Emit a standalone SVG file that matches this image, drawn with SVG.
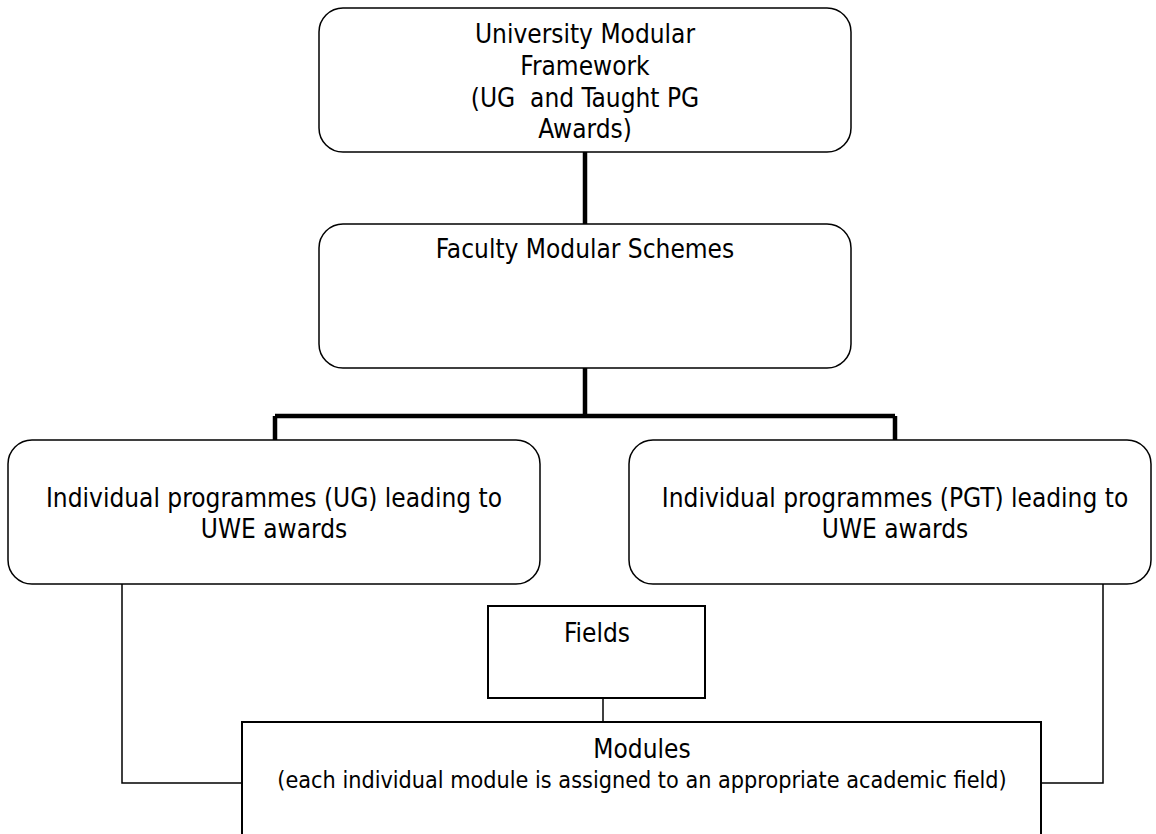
<svg xmlns="http://www.w3.org/2000/svg" width="1156" height="834" viewBox="0 0 1156 834">
<style>
  text { font-family: "DejaVu Sans Condensed", "DejaVu Sans", sans-serif; font-size: 26px; fill: #000; text-anchor: middle; white-space: pre; }
  text.small { font-size: 23.2px; }
  .rbox { fill: #fff; stroke: #000; stroke-width: 1.5; }
  .sbox { fill: #fff; stroke: #000; stroke-width: 2; }
  .thick { fill: none; stroke: #000; stroke-width: 4.5; }
  .thin { fill: none; stroke: #000; stroke-width: 1.5; }
</style>
<rect width="1156" height="834" fill="#fff"/>
<g id="connectors">
  <path class="thick" d="M585 152 V224"/>
  <path class="thick" d="M585 368 V416 M275 416 H895 M275 416 V440 M895 416 V440"/>
  <path class="thin" d="M122 584 V783 H242"/>
  <path class="thin" d="M1103 584 V783 H1041"/>
  <path class="thin" d="M603 698 V722"/>
</g>
<g id="university">
  <rect class="rbox" x="319" y="8" width="532" height="144" rx="24"/>
  <text x="585" y="43">University Modular</text>
  <text x="585" y="75">Framework</text>
  <text x="585" y="107" xml:space="preserve">(UG  and Taught PG</text>
  <text x="585" y="138">Awards)</text>
</g>
<g id="faculty">
  <rect class="rbox" x="319" y="224" width="532" height="144" rx="24"/>
  <text x="585" y="258">Faculty Modular Schemes</text>
</g>
<g id="ug">
  <rect class="rbox" x="8" y="440" width="532" height="144" rx="24"/>
  <text x="274" y="507">Individual programmes (UG) leading to</text>
  <text x="274" y="538">UWE awards</text>
</g>
<g id="pgt">
  <rect class="rbox" x="629" y="440" width="522" height="144" rx="24"/>
  <text x="895" y="507">Individual programmes (PGT) leading to</text>
  <text x="895" y="538">UWE awards</text>
</g>
<g id="fields">
  <rect class="sbox" x="488" y="606" width="217" height="92"/>
  <text x="597" y="642">Fields</text>
</g>
<g id="modules">
  <rect class="sbox" x="242" y="722" width="799" height="130"/>
  <text x="642" y="758">Modules</text>
  <text class="small" x="642" y="788">(each individual module is assigned to an appropriate academic field)</text>
</g>
</svg>
